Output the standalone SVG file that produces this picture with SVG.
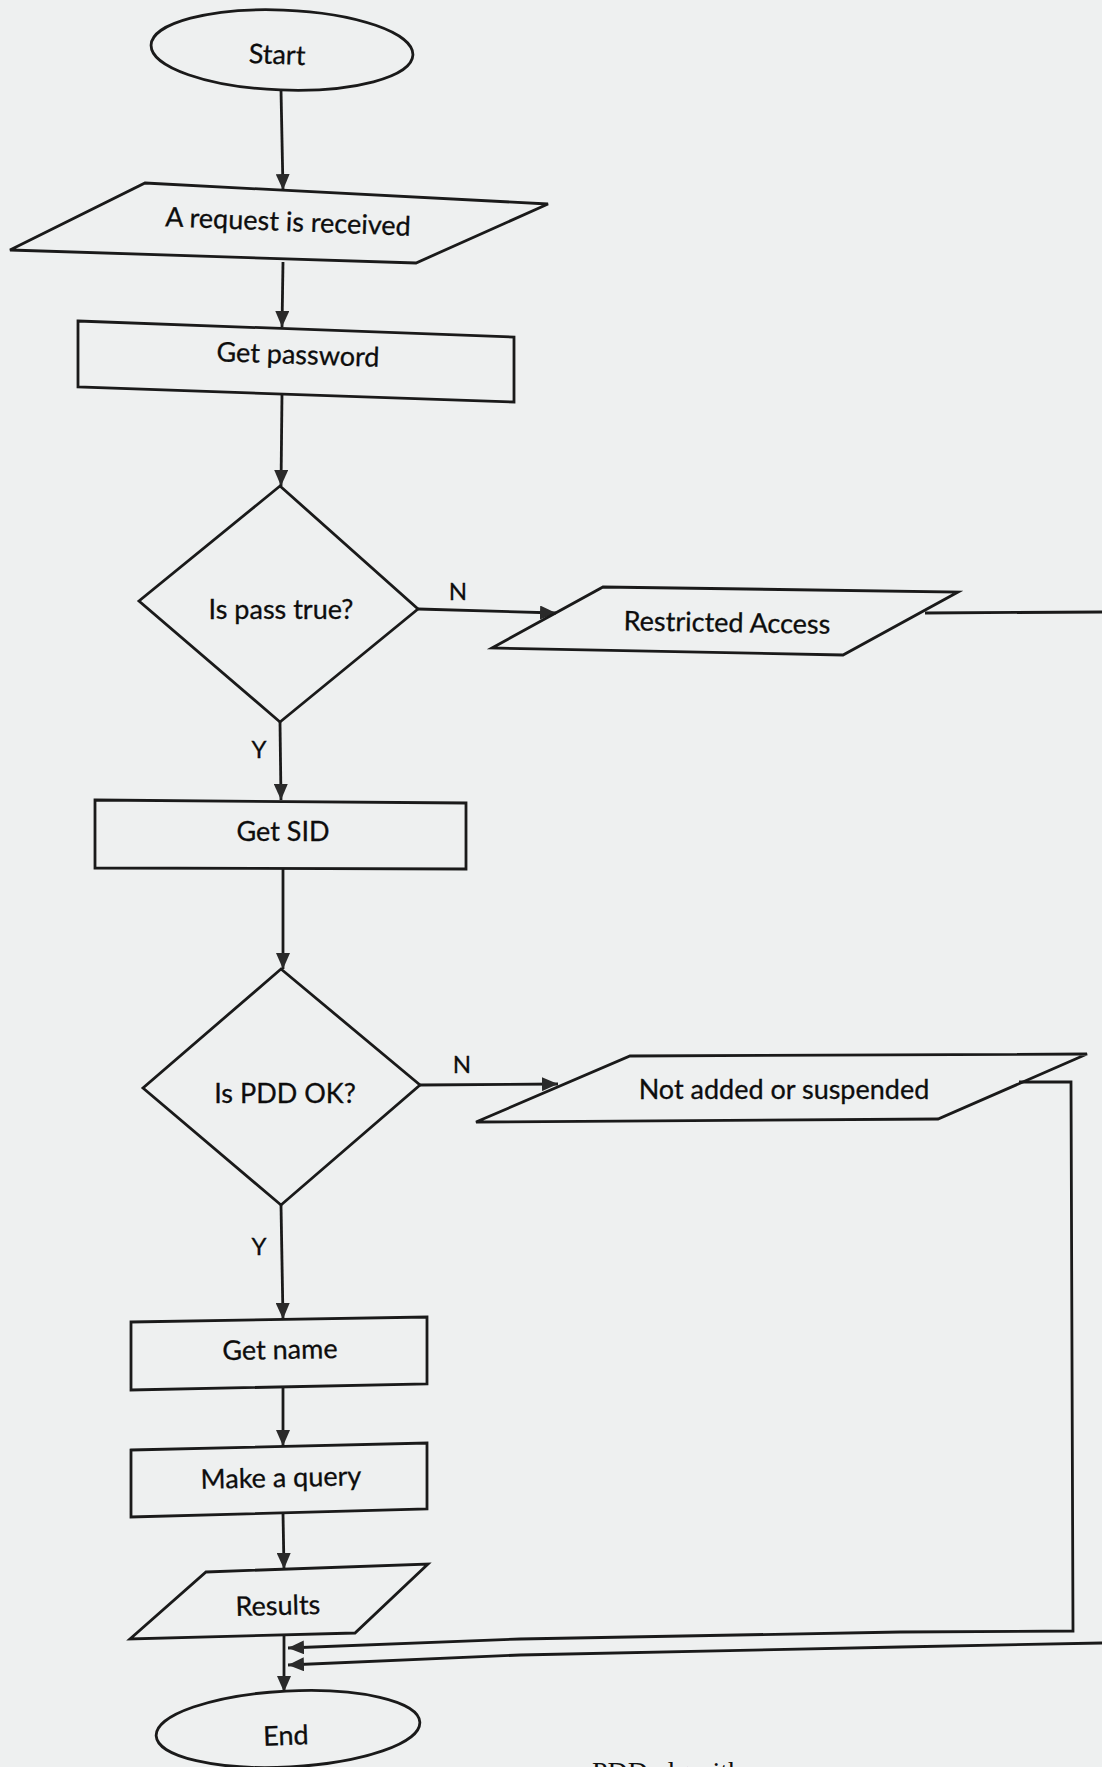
<svg xmlns="http://www.w3.org/2000/svg" width="1102" height="1767" viewBox="0 0 1102 1767">
  <style>
    .shape { fill: none; stroke: #1a1a1a; stroke-width: 2.8; stroke-linejoin: miter; }
    .edge { fill: none; stroke: #1a1a1a; stroke-width: 2.8; }
    .label { font-family: Lato, "Liberation Sans", sans-serif; font-size: 27px; fill: #0d0d0d; text-anchor: middle; stroke: #0d0d0d; stroke-width: 0.3; }
    .branch { font-family: Lato, "Liberation Sans", sans-serif; font-size: 24px; fill: #0d0d0d; text-anchor: middle; stroke: #0d0d0d; stroke-width: 0.3; }
    .caption { font-family: "Liberation Serif", serif; font-size: 28px; fill: #111; }
  </style>
  <defs>
    <marker id="arrow" markerWidth="16" markerHeight="14" refX="16" refY="7" orient="auto" markerUnits="userSpaceOnUse">
      <path d="M0,0 L16,7 L0,14 z" fill="#2a2a2a"/>
    </marker>
  </defs>

  <!-- page -->
  <rect width="1102" height="1767" fill="#eef0f0"/>

  <!-- connectors -->
  <g id="connectors">
    <path class="edge" d="M281,90 L283,190" marker-end="url(#arrow)"/>
    <path class="edge" d="M283,262 L282,327" marker-end="url(#arrow)"/>
    <path class="edge" d="M282,394 L281,486" marker-end="url(#arrow)"/>
    <path class="edge" d="M418,609 L556,613" marker-end="url(#arrow)"/>
    <path class="edge" d="M280,722 L281,800" marker-end="url(#arrow)"/>
    <path class="edge" d="M283,869 L283,969" marker-end="url(#arrow)"/>
    <path class="edge" d="M420,1085 L558,1084" marker-end="url(#arrow)"/>
    <path class="edge" d="M281,1205 L283,1319" marker-end="url(#arrow)"/>
    <path class="edge" d="M283,1387 L283,1446" marker-end="url(#arrow)"/>
    <path class="edge" d="M283,1513 L284,1569" marker-end="url(#arrow)"/>
    <path class="edge" d="M284,1635 L284,1692" marker-end="url(#arrow)"/>
    <!-- restricted access branch: leaves the page and returns -->
    <path class="edge" d="M925,613 L1102,612"/>
    <path class="edge" d="M1102,1643 L900,1647 L520,1655 L288,1665" marker-end="url(#arrow)"/>
    <!-- not added / suspended branch -->
    <path class="edge" d="M1019,1082 L1071,1082 L1073,1631 L900,1632 L520,1639 L288,1648" marker-end="url(#arrow)"/>
  </g>

  <g id="start">
    <ellipse class="shape" cx="282" cy="50" rx="131" ry="40" transform="rotate(2.2 282 50)"/>
    <text class="label" x="277" y="64" transform="rotate(2 277 58)">Start</text>
  </g>

  <g id="request">
    <polygon class="shape" points="145,183 548,204 416,263 10,250"/>
    <text class="label" x="288" y="231" transform="rotate(2.2 288 224)">A request is received</text>
  </g>

  <g id="get-password">
    <polygon class="shape" points="78,321 514,337 514,402 78,387"/>
    <text class="label" x="298" y="364" transform="rotate(2 298 357)">Get password</text>
  </g>

  <g id="check-pass">
    <polygon class="shape" points="280,486 418,609 280,722 139,601"/>
    <text class="label" x="281" y="619">Is pass true?</text>
    <text class="branch" x="458" y="600">N</text>
    <text class="branch" x="259" y="758">Y</text>
  </g>

  <g id="restricted">
    <polygon class="shape" points="603,587 958,592 843,655 492,648"/>
    <text class="label" x="727" y="632" transform="rotate(1 727 625)">Restricted Access</text>
  </g>

  <g id="get-sid">
    <polygon class="shape" points="95,800 466,803 466,869 95,868"/>
    <text class="label" x="283" y="841">Get SID</text>
  </g>

  <g id="check-pdd">
    <polygon class="shape" points="281,969 420,1085 281,1205 143,1088"/>
    <text class="label" x="285" y="1103">Is PDD OK?</text>
    <text class="branch" x="462" y="1073">N</text>
    <text class="branch" x="259" y="1255">Y</text>
  </g>

  <g id="not-added">
    <polygon class="shape" points="630,1056 1087,1054 938,1119 476,1122"/>
    <text class="label" x="784" y="1099">Not added or suspended</text>
  </g>

  <g id="get-name">
    <polygon class="shape" points="131,1322 427,1317 427,1384 131,1390"/>
    <text class="label" x="280" y="1359" transform="rotate(-1 280 1352)">Get name</text>
  </g>

  <g id="make-query">
    <polygon class="shape" points="131,1450 427,1443 427,1509 131,1517"/>
    <text class="label" x="281" y="1487" transform="rotate(-1.3 281 1480)">Make a query</text>
  </g>

  <g id="results">
    <polygon class="shape" points="206,1572 428,1564 355,1633 130,1639"/>
    <text class="label" x="278" y="1615" transform="rotate(-1.5 278 1608)">Results</text>
  </g>

  <g id="end">
    <ellipse class="shape" cx="288" cy="1729" rx="132" ry="38" transform="rotate(-3 288 1729)"/>
    <text class="label" x="286" y="1745" transform="rotate(-2 286 1738)">End</text>
  </g>

  <!-- figure caption, running off the bottom of the page -->
  <text class="caption" x="592" y="1781">PDD algorithm</text>
</svg>
